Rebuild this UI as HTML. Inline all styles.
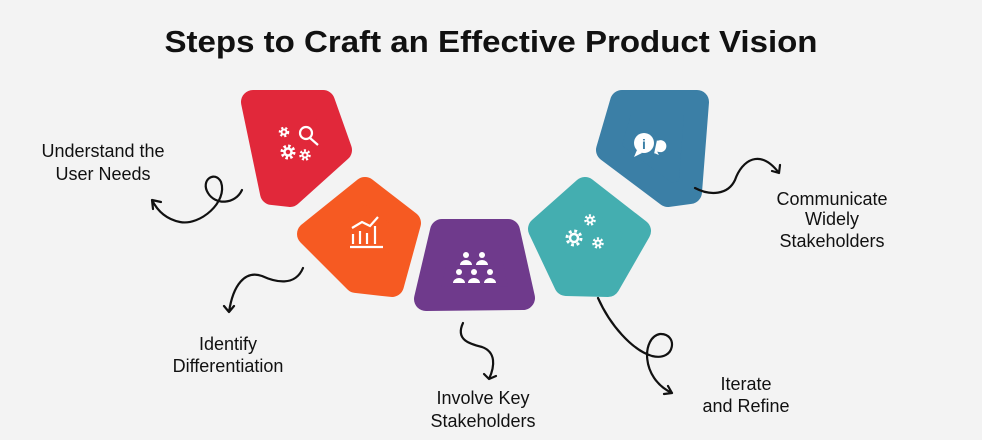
<!DOCTYPE html>
<html><head><meta charset="utf-8"><style>
html,body{margin:0;padding:0;background:#f3f3f3;}
svg{display:block;font-family:"Liberation Sans",sans-serif;}
</style></head><body>
<svg width="982" height="440" viewBox="0 0 982 440">
<rect width="982" height="440" fill="#f3f3f3"/>
<text x="491" y="52" text-anchor="middle" font-size="31" font-weight="bold" fill="#111" textLength="653" lengthAdjust="spacingAndGlyphs">Steps to Craft an Effective Product Vision</text>
<g stroke-linejoin="round" stroke-width="24">
<polygon points="253,102 323,102 340,150 290,195 272,193" fill="#e1283a" stroke="#e1283a"/>
<polygon points="365,189 409,223 392,285 356,281 309,234" fill="#f65a22" stroke="#f65a22"/>
<polygon points="442,231 508,231 523,298 426,299" fill="#6f3a8c" stroke="#6f3a8c"/>
<polygon points="585,189 639,231 608,285 566,284 540,229" fill="#44aeb0" stroke="#44aeb0"/>
<polygon points="622,102 697,102 690,192 668,195 608,150" fill="#3b7fa6" stroke="#3b7fa6"/>
</g>
<g fill="none" stroke="#fff" stroke-width="2.2">
<circle cx="306" cy="133" r="6"/><line x1="310" y1="138" x2="318" y2="145"/>
<g>
<circle cx="284" cy="132" r="2.5" stroke-width="2"/><circle cx="284" cy="132" r="4" stroke-width="2.5" stroke-dasharray="2 2"/>
<circle cx="288" cy="152" r="3.5" stroke-width="2.5"/><circle cx="288" cy="152" r="6" stroke-width="3" stroke-dasharray="2.5 2.2"/>
<circle cx="305" cy="155" r="2.5" stroke-width="2"/><circle cx="305" cy="155" r="4.5" stroke-width="2.5" stroke-dasharray="2 2"/>
</g>
<g><line x1="350" y1="247" x2="383" y2="247"/><line x1="353" y1="244" x2="353" y2="234"/><line x1="360" y1="244" x2="360" y2="231"/><line x1="367" y1="244" x2="367" y2="233"/><line x1="375" y1="244" x2="375" y2="226"/><polyline points="352,228 362,222 370,226 378,217"/></g>
<g fill="#fff" stroke="none"><circle cx="466" cy="255" r="3"/><circle cx="482" cy="255" r="3"/><path d="M460,265 a6,5 0 0 1 12,0z M476,265 a6,5 0 0 1 12,0z"/><circle cx="459" cy="272" r="3"/><circle cx="474" cy="272" r="3"/><circle cx="490" cy="272" r="3"/><path d="M453,283 a6,5 0 0 1 12,0z M468,283 a6,5 0 0 1 12,0z M484,283 a6,5 0 0 1 12,0z"/></g>
<g>
<circle cx="574" cy="238" r="4" stroke-width="2.5"/><circle cx="574" cy="238" r="7" stroke-width="3" stroke-dasharray="2.8 2.7"/>
<circle cx="590" cy="220" r="2.5" stroke-width="2"/><circle cx="590" cy="220" r="4.5" stroke-width="2.5" stroke-dasharray="2 2"/>
<circle cx="598" cy="243" r="2.5" stroke-width="2"/><circle cx="598" cy="243" r="4.5" stroke-width="2.5" stroke-dasharray="2 2"/>
</g>
<g><circle cx="644" cy="143" r="10" fill="#fff" stroke="none"/><path d="M637,150 l-3,7 l8,-4z" fill="#fff" stroke="none"/><path d="M657,140 a7,7 0 1 1 2,13 l2,4 l-7,-3" fill="#fff" stroke="#3b7fa6" stroke-width="2"/><text x="644" y="149" font-size="14" font-weight="bold" fill="#3b7fa6" stroke="none" text-anchor="middle">i</text></g>
</g>
<g fill="none" stroke="#111" stroke-width="2.2" stroke-linecap="round" stroke-linejoin="round">
<path d="M242,190 C235,205 215,205 208,193 C200,180 215,170 221,182 C228,202 200,226 180,222 C165,219 157,210 152,200 M152,200 l1,9 M152,200 l9,2"/>
<path d="M303,268 C295,287 275,282 262,276 C245,270 233,285 229,312 M229,312 l-5,-6 M229,312 l5,-6"/>
<path d="M463,323 C455,340 470,344 482,347 C496,352 495,366 489,379 M489,379 l-5,-5 M489,379 l7,-3"/>
<path d="M598,298 C610,325 632,350 652,356 C676,362 678,333 660,334 C642,337 640,378 672,393 M672,393 l-8,1 M672,393 l-4,-7"/>
<path d="M695,188 C710,196 728,195 735,180 C742,160 760,148 779,173 M779,173 l-7,-2 M779,173 l1,-8"/>
</g>
<g font-size="18" fill="#111" text-anchor="middle">
<text x="103" y="157">Understand the</text>
<text x="103" y="180">User Needs</text>
<text x="228" y="350">Identify</text>
<text x="228" y="372">Differentiation</text>
<text x="483" y="404">Involve Key</text>
<text x="483" y="427">Stakeholders</text>
<text x="746" y="390">Iterate</text>
<text x="746" y="412">and Refine</text>
<text x="832" y="205">Communicate</text>
<text x="832" y="225">Widely</text>
<text x="832" y="247">Stakeholders</text>
</g>
</svg>
</body></html>
